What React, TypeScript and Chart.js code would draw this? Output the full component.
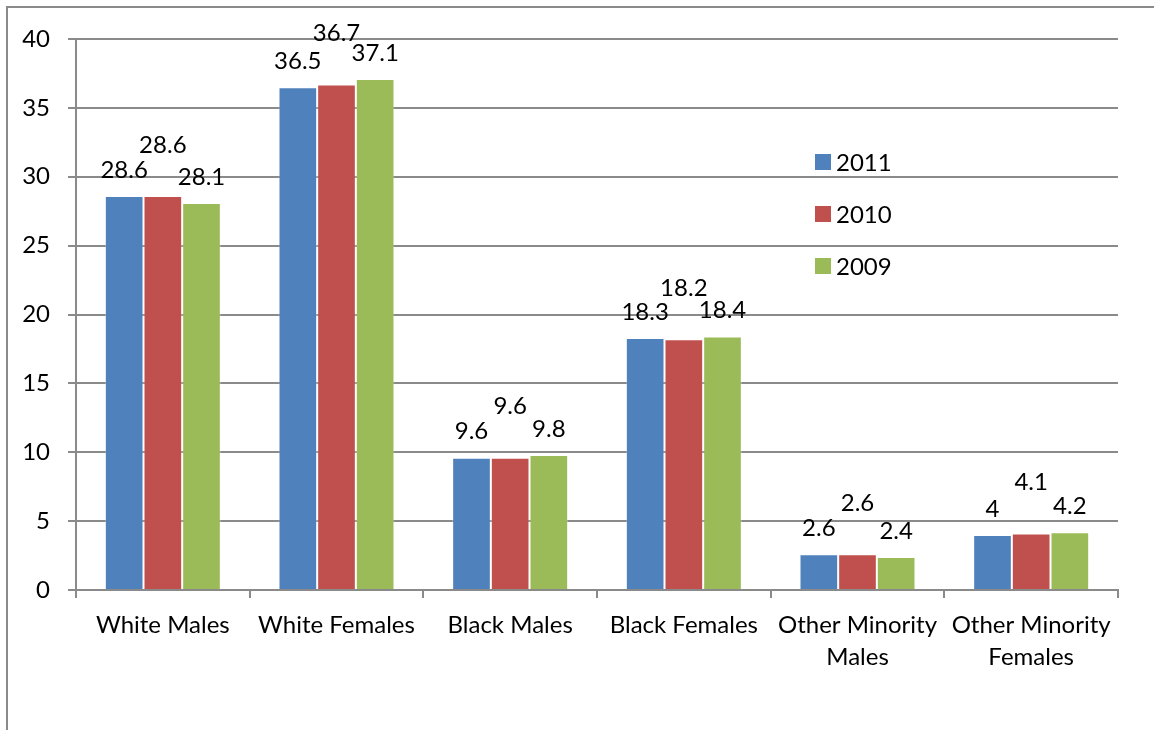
import React, { useEffect, useRef } from "react";
import { Chart, registerables } from "chart.js";

Chart.register(...registerables);

const categories: (string | string[])[] = [
  "White Males",
  "White Females",
  "Black Males",
  "Black Females",
  ["Other Minority", "Males"],
  ["Other Minority", "Females"],
];
const seriesNames = ["2011", "2010", "2009"];
const values2011 = [28.6, 36.5, 9.6, 18.3, 2.6, 4];
const values2010 = [28.6, 36.7, 9.6, 18.2, 2.6, 4.1];
const values2009 = [28.1, 37.1, 9.8, 18.4, 2.4, 4.2];
const seriesColors = ["#4F81BD", "#C0504D", "#9BBB59"];
const yTicks = [0, 5, 10, 15, 20, 25, 30, 35, 40];

const FONT = "Lato, 'Open Sans', sans-serif";
const FONT_SIZE = 24;
const GRID = "#8a8a8a";

// Outer frame along the left and top edges of the canvas
const framePlugin = {
  id: "frame",
  beforeDraw(chart: any) {
    const { ctx, width, height } = chart;
    ctx.save();
    ctx.strokeStyle = GRID;
    ctx.lineWidth = 2;
    ctx.beginPath();
    ctx.moveTo(7, height);
    ctx.lineTo(7, 7);
    ctx.lineTo(width, 7);
    ctx.stroke();
    ctx.restore();
  },
};

// Value labels above bars; the middle series sits a row higher
const valueLabelPlugin = {
  id: "valueLabels",
  afterDatasetsDraw(chart: any) {
    const { ctx } = chart;
    const lift = [26, 51, 26];
    ctx.save();
    ctx.font = `${FONT_SIZE}px ${FONT}`;
    ctx.fillStyle = "#000";
    ctx.textAlign = "center";
    ctx.textBaseline = "middle";
    chart.data.datasets.forEach((ds: any, i: number) => {
      const meta = chart.getDatasetMeta(i);
      meta.data.forEach((bar: any, j: number) => {
        ctx.fillText(String(ds.data[j]), bar.x, bar.y - lift[i]);
      });
    });
    ctx.restore();
  },
};

// Legend drawn inside the plot area
const innerLegendPlugin = {
  id: "innerLegend",
  afterDraw(chart: any) {
    const { ctx } = chart;
    const x0 = 815;
    const ys = [162, 214, 266];
    ctx.save();
    ctx.font = `${FONT_SIZE}px ${FONT}`;
    ctx.textAlign = "left";
    ctx.textBaseline = "middle";
    chart.data.datasets.forEach((ds: any, i: number) => {
      ctx.fillStyle = ds.backgroundColor;
      ctx.fillRect(x0, ys[i] - 8, 16, 16);
      ctx.fillStyle = "#000";
      ctx.fillText(ds.label, x0 + 21, ys[i] + 1);
    });
    ctx.restore();
  },
};

export default function App() {
  const canvasRef = useRef<HTMLCanvasElement>(null);

  useEffect(() => {
    if (!canvasRef.current) return;
    const seriesValues = [values2011, values2010, values2009];
    const chart = new Chart(canvasRef.current, {
      type: "bar",
      data: {
        labels: categories,
        datasets: seriesNames.map((name, i) => ({
          label: name,
          data: seriesValues[i],
          backgroundColor: seriesColors[i],
          borderColor: "rgba(255,255,255,0.3)",
          borderWidth: 1,
          categoryPercentage: 0.668,
          barPercentage: 1,
        })),
      },
      options: {
        responsive: false,
        animation: false,
        devicePixelRatio: 1,
        layout: { padding: { left: 16, top: 39, right: 36, bottom: 0 } },
        plugins: {
          legend: { display: false },
          tooltip: { enabled: false },
        },
        scales: {
          x: {
            grid: {
              display: true,
              drawOnChartArea: false,
              drawTicks: true,
              tickLength: 8,
              color: GRID,
              lineWidth: 2,
              offset: true,
            },
            border: { display: true, color: GRID, width: 2 },
            ticks: {
              color: "#000",
              padding: 11,
              maxRotation: 0,
              autoSkip: false,
              font: { family: FONT, size: FONT_SIZE, lineHeight: 1.33 },
            },
            afterFit(scale: any) {
              scale.height = 140;
            },
          },
          y: {
            min: 0,
            max: 40,
            afterBuildTicks(scale: any) {
              scale.ticks = yTicks.map((v) => ({ value: v }));
            },
            grid: {
              color: GRID,
              lineWidth: 2,
              drawTicks: true,
              tickLength: 8,
            },
            border: { display: true, color: GRID, width: 2 },
            ticks: {
              color: "#000",
              padding: 18,
              font: { family: FONT, size: FONT_SIZE },
            },
            afterFit(scale: any) {
              scale.width = 60;
            },
          },
        },
      },
      plugins: [framePlugin, valueLabelPlugin, innerLegendPlugin],
    });
    return () => chart.destroy();
  }, []);

  return (
    <div style={{ position: "fixed", left: 0, top: 0, width: 1154, height: 730, background: "#fff" }}>
      <canvas ref={canvasRef} width={1154} height={730} style={{ display: "block" }} />
    </div>
  );
}
